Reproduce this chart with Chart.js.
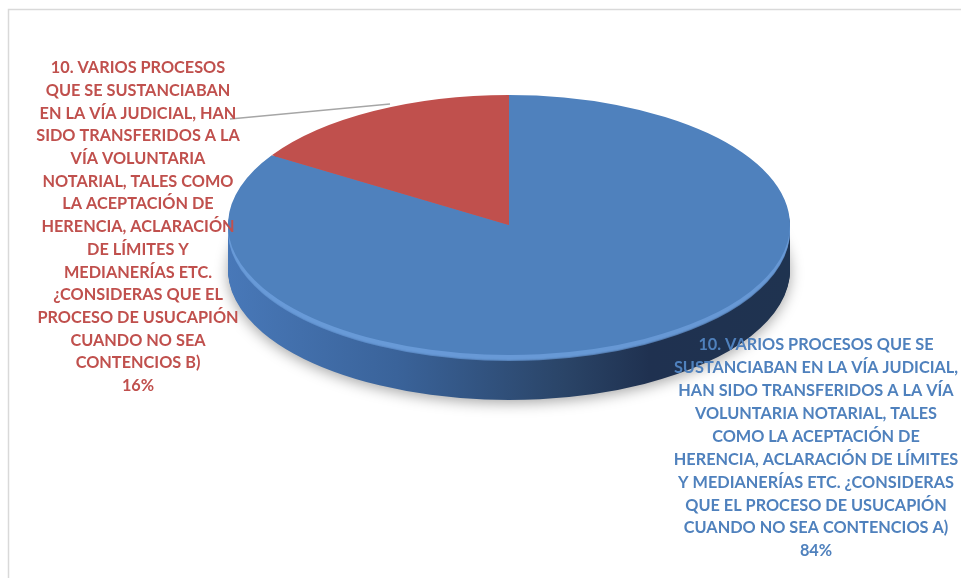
<!DOCTYPE html>
<html lang="es">
<head>
<meta charset="utf-8">
<script src="https://cdn.jsdelivr.net/npm/chart.js@4.4.1/dist/chart.umd.min.js"></script>
<style>
  html, body { margin: 0; padding: 0; background: #fff; }
  #caja { width: 961px; height: 578px; position: relative; }
</style>
</head>
<body>
<div id="caja"><canvas id="grafico"></canvas></div>
<script>
// Pregunta 10: respuestas A) y B)
const categorias = ['A)', 'B)'];
const valores = [84, 16];

// texto de cada etiqueta, ya partido en renglones
const lineasA = [
  '10. VARIOS PROCESOS QUE SE',
  'SUSTANCIABAN EN LA VÍA JUDICIAL,',
  'HAN SIDO TRANSFERIDOS A LA VÍA',
  'VOLUNTARIA NOTARIAL, TALES',
  'COMO LA ACEPTACIÓN DE',
  'HERENCIA, ACLARACIÓN DE LÍMITES',
  'Y MEDIANERÍAS ETC. ¿CONSIDERAS',
  'QUE EL PROCESO DE USUCAPIÓN',
  'CUANDO NO SEA CONTENCIOS A)'
];
const lineasB = [
  '10. VARIOS PROCESOS',
  'QUE SE SUSTANCIABAN',
  'EN LA VÍA JUDICIAL, HAN',
  'SIDO TRANSFERIDOS A LA',
  'VÍA VOLUNTARIA',
  'NOTARIAL, TALES COMO',
  'LA ACEPTACIÓN DE',
  'HERENCIA, ACLARACIÓN',
  'DE LÍMITES Y',
  'MEDIANERÍAS ETC.',
  '¿CONSIDERAS QUE EL',
  'PROCESO DE USUCAPIÓN',
  'CUANDO NO SEA',
  'CONTENCIOS B)'
];

const colores = ['#4F81BD', '#C0504D'];
const coloresTexto = ['#4F81BD', '#C0504D'];

// medidas del pastel "3D"
const centroY = 225;   // centro de la cara superior
const radioY = 130;    // radio vertical de la elipse
const grosor = 45;     // alto del borde lateral

const total = valores.reduce((a, b) => a + b, 0);

function transformar(ctx, arco, dy) {
  const k = radioY / arco.outerRadius;
  ctx.translate(arco.x, centroY + dy);
  ctx.scale(1, k);
  ctx.translate(-arco.x, -arco.y);
}

function dibujarArco(ctx, arco, color) {
  const copia = Object.create(arco);
  copia.options = Object.assign({}, arco.options, { backgroundColor: color, borderWidth: 0 });
  arco.draw.call(copia, ctx);
}

const pastel3D = {
  id: 'pastel3D',
  beforeDraw(chart) {
    const ctx = chart.ctx;
    ctx.save();
    ctx.strokeStyle = '#D9D9D9';
    ctx.lineWidth = 1.5;
    ctx.strokeRect(8.5, 9.5, 1000, 700);
    ctx.restore();
  },
  beforeDatasetsDraw(chart) {
    const ctx = chart.ctx;
    const arcos = chart.getDatasetMeta(0).data;
    const ref = arcos[0];

    const ladoAzul = ctx.createLinearGradient(ref.x - ref.outerRadius, 0, ref.x + ref.outerRadius, 0);
    ladoAzul.addColorStop(0, '#4878B8');
    ladoAzul.addColorStop(0.3, '#3A639A');
    ladoAzul.addColorStop(0.6, '#2A4467');
    ladoAzul.addColorStop(0.75, '#1F3150');
    ladoAzul.addColorStop(1, '#1F3350');
    const ladoRojo = ctx.createLinearGradient(ref.x - ref.outerRadius, 0, ref.x + ref.outerRadius, 0);
    ladoRojo.addColorStop(0, '#A8423F');
    ladoRojo.addColorStop(1, '#5E2523');
    const lados = [ladoAzul, ladoRojo];

    // sombra bajo el pastel
    ctx.save();
    ctx.shadowColor = 'rgba(0,0,0,0.35)';
    ctx.shadowBlur = 14;
    ctx.shadowOffsetY = 3;
    transformar(ctx, ref, grosor);
    arcos.forEach((a, i) => dibujarArco(ctx, a, lados[i]));
    ctx.restore();

    // borde lateral
    for (let d = grosor - 1; d >= 3; d--) {
      ctx.save();
      transformar(ctx, ref, d);
      arcos.forEach((a, i) => dibujarArco(ctx, a, lados[i]));
      ctx.restore();
    }

    // brillo del bisel, difuminado
    const brillo = ['rgba(106,155,216,0.7)', 'rgba(208,96,92,0.7)'];
    [6, 5, 4].forEach(d => {
      ctx.save();
      transformar(ctx, ref, d);
      arcos.forEach((a, i) => dibujarArco(ctx, a, brillo[i]));
      ctx.restore();
    });

    // la cara superior la dibuja Chart.js con esta transformacion
    ctx.save();
    transformar(ctx, ref, 0);
  },
  afterDatasetsDraw(chart) {
    chart.ctx.restore();
  },
  afterDraw(chart) {
    const ctx = chart.ctx;
    ctx.save();

    // linea guia de la etiqueta B
    ctx.strokeStyle = '#A6A6A6';
    ctx.lineWidth = 1.5;
    ctx.beginPath();
    ctx.moveTo(230, 119);
    ctx.lineTo(390, 104);
    ctx.stroke();

    ctx.font = 'bold 16.3px Lato, "Open Sans", sans-serif';
    ctx.textAlign = 'center';
    ctx.textBaseline = 'middle';

    const pct = valores.map(v => Math.round(v / total * 100) + '%');

    ctx.fillStyle = coloresTexto[0];
    lineasA.concat([pct[0]]).forEach((t, i) => ctx.fillText(t, 816, 345 + i * 22.9));

    ctx.fillStyle = coloresTexto[1];
    lineasB.concat([pct[1]]).forEach((t, i) => ctx.fillText(t, 138, 68 + i * 22.7));

    ctx.restore();
  }
};

new Chart(document.getElementById('grafico'), {
  type: 'pie',
  data: {
    labels: categorias,
    datasets: [{
      data: valores,
      backgroundColor: colores,
      borderWidth: 0
    }]
  },
  options: {
    responsive: true,
    maintainAspectRatio: false,
    animation: false,
    layout: { padding: { left: 228, right: 171, top: 8, bottom: 8 } },
    plugins: {
      legend: { display: false },
      tooltip: { enabled: false }
    }
  },
  plugins: [pastel3D]
});
</script>
</body>
</html>
